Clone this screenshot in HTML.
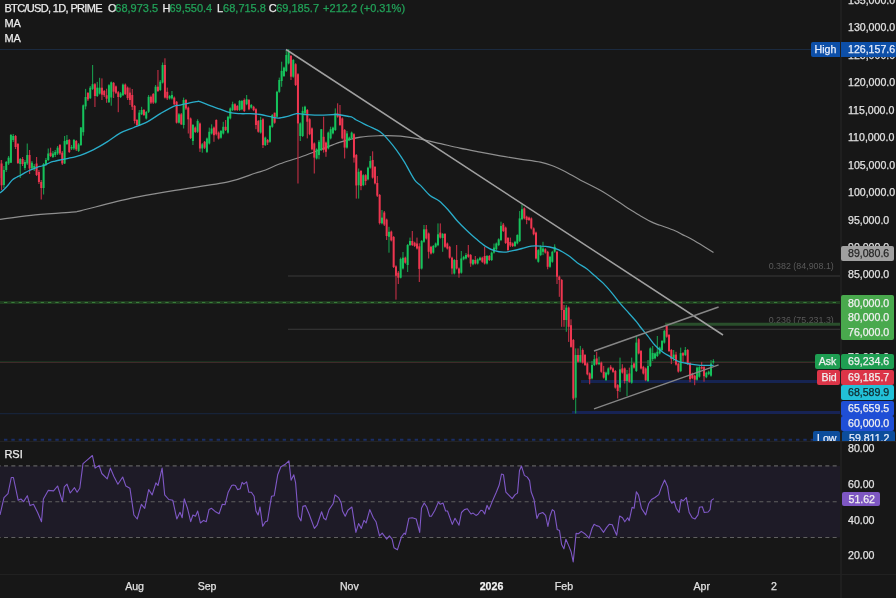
<!DOCTYPE html>
<html><head><meta charset="utf-8"><style>
*{margin:0;padding:0;box-sizing:border-box}
html,body{width:896px;height:598px;overflow:hidden;background:#171717;font-family:"Liberation Sans",Arial,sans-serif}
#root{position:relative;width:896px;height:598px;overflow:hidden;will-change:transform}
.pl,.box,.tl,.hdr{-webkit-text-stroke:0.25px currentColor}
svg{position:absolute;left:0;top:0}
.pl{position:absolute;left:848px;font-size:10.6px;line-height:14px;white-space:nowrap}
.box{position:absolute;font-size:10.6px;line-height:15px;white-space:nowrap;border-radius:2px;padding-left:7px}
.tl{position:absolute;top:579.2px;font-size:10.6px;line-height:14px;color:#e0e0e0;transform:translateX(-50%)}
.hdr{position:absolute;left:4.4px;font-size:11px;line-height:14px;color:#ebebeb;white-space:nowrap}
.g{color:#22a259}
</style></head><body><div id="root">
<svg width="841" height="441" viewBox="0 0 841 441" font-family="Liberation Sans, Arial, sans-serif">
<line x1="0" y1="49.5" x2="811" y2="49.5" stroke="#1b2a3f" stroke-width="1"/>
<line x1="288" y1="276" x2="841" y2="276" stroke="#3b3b3b" stroke-width="1.1"/>
<line x1="288" y1="329.3" x2="841" y2="329.3" stroke="#3b3b3b" stroke-width="1.1"/>
<text x="768.7" y="269.3" font-size="8.9" fill="#5a5a5a">0.382 (84,908.1)</text>
<text x="768.7" y="322.6" font-size="8.9" fill="#5a5a5a">0.236 (75,231.3)</text>
<line x1="0" y1="302.5" x2="841" y2="302.5" stroke="#1f3a1f" stroke-width="3"/>
<line x1="0" y1="302.5" x2="841" y2="302.5" stroke="#3b7d3b" stroke-width="1.2" stroke-dasharray="3.3 4.0333" stroke-dashoffset="3.3333"/>
<line x1="665" y1="324.3" x2="841" y2="324.3" stroke="#2a4f2c" stroke-width="3"/>
<line x1="0" y1="361.5" x2="815" y2="361.5" stroke="#1a2f1f" stroke-width="1"/>
<line x1="0" y1="362.5" x2="817" y2="362.5" stroke="#3f2a29" stroke-width="1"/>
<line x1="581" y1="381.5" x2="841" y2="381.5" stroke="#162452" stroke-width="3"/>
<line x1="0" y1="413.6" x2="572" y2="413.6" stroke="#172338" stroke-width="1.4"/>
<line x1="572" y1="412.5" x2="841" y2="412.5" stroke="#172354" stroke-width="3"/>
<line x1="0" y1="439.8" x2="841" y2="439.8" stroke="#1a2e66" stroke-width="2" stroke-dasharray="3.4 3.9333" stroke-dashoffset="3.3333"/>
<path d="M0.0,219.4 C5.2,218.7 19.3,216.5 31.2,215.3 C43.2,214.1 63.6,213.0 71.9,212.2 C80.2,211.4 71.4,212.9 81.2,210.6 C91.1,208.2 115.6,201.5 131.2,198.1 C146.9,194.7 158.9,193.0 175.0,190.3 C191.1,187.6 214.8,184.7 228.1,181.9 C241.4,179.1 248.8,175.3 255.0,173.3 C261.2,171.3 261.4,171.6 265.6,170.0 C269.8,168.4 274.2,165.9 280.0,163.8 C285.8,161.7 293.4,159.5 300.1,157.2 C306.8,154.8 313.5,152.2 320.2,149.7 C326.9,147.2 333.6,144.2 340.3,142.1 C347.0,140.0 353.7,138.2 360.4,137.1 C367.1,136.0 373.7,135.9 380.4,135.7 C387.1,135.5 393.8,135.5 400.5,136.1 C407.2,136.7 413.9,137.8 420.6,139.1 C427.3,140.4 434.1,142.2 440.7,143.7 C447.3,145.2 453.4,146.7 460.0,148.1 C466.6,149.5 473.5,150.8 480.2,152.1 C486.9,153.4 493.5,154.6 500.2,155.8 C506.9,157.0 513.6,158.1 520.3,159.1 C527.0,160.1 535.0,161.0 540.4,162.1 C545.8,163.2 548.5,164.2 552.5,165.7 C556.5,167.2 559.8,168.8 564.5,171.2 C569.2,173.6 574.6,177.0 580.6,180.2 C586.6,183.4 594.1,186.8 600.7,190.6 C607.3,194.4 615.1,199.7 620.0,202.8 C624.9,206.0 626.5,207.3 630.0,209.5 C633.5,211.7 637.1,214.0 641.0,216.2 C644.9,218.4 650.3,221.4 653.5,222.9 C656.7,224.4 656.4,224.0 660.0,225.3 C663.6,226.6 671.3,229.2 675.0,230.7 C678.7,232.2 679.5,233.2 682.0,234.4 C684.5,235.7 687.0,236.6 690.0,238.2 C693.0,239.8 696.1,241.7 700.0,244.1 C703.9,246.5 711.2,251.1 713.5,252.5" fill="none" stroke="#8f8f8f" stroke-width="1.2" stroke-linejoin="round"/>
<rect x="-1.30" y="158.0" width="1.1" height="22.0" fill="#c22f45"/>
<rect x="-1.75" y="160.0" width="2" height="18.0" fill="#ee3650"/>
<rect x="1.03" y="160.0" width="1.1" height="30.0" fill="#c22f45"/>
<rect x="0.58" y="163.5" width="2" height="21.8" fill="#ee3650"/>
<rect x="3.36" y="166.0" width="1.1" height="22.0" fill="#189a4c"/>
<rect x="2.91" y="170.0" width="2" height="15.0" fill="#16c25c"/>
<rect x="5.70" y="161.0" width="1.1" height="11.0" fill="#189a4c"/>
<rect x="5.25" y="162.0" width="2" height="8.0" fill="#16c25c"/>
<rect x="8.03" y="156.0" width="1.1" height="9.0" fill="#189a4c"/>
<rect x="7.58" y="157.7" width="2" height="5.8" fill="#16c25c"/>
<rect x="10.36" y="134.0" width="1.1" height="29.0" fill="#189a4c"/>
<rect x="9.91" y="135.0" width="2" height="27.7" fill="#16c25c"/>
<rect x="12.70" y="134.0" width="1.1" height="8.0" fill="#189a4c"/>
<rect x="12.25" y="136.0" width="2" height="4.0" fill="#16c25c"/>
<rect x="15.03" y="135.0" width="1.1" height="14.0" fill="#c22f45"/>
<rect x="14.58" y="136.0" width="2" height="11.0" fill="#ee3650"/>
<rect x="17.37" y="143.0" width="1.1" height="21.0" fill="#c22f45"/>
<rect x="16.92" y="144.0" width="2" height="19.0" fill="#ee3650"/>
<rect x="19.70" y="158.0" width="1.1" height="20.0" fill="#189a4c"/>
<rect x="19.25" y="159.0" width="2" height="5.0" fill="#16c25c"/>
<rect x="22.03" y="157.0" width="1.1" height="9.0" fill="#c22f45"/>
<rect x="21.58" y="159.0" width="2" height="5.0" fill="#ee3650"/>
<rect x="24.37" y="160.0" width="1.1" height="10.0" fill="#189a4c"/>
<rect x="23.92" y="162.0" width="2" height="6.0" fill="#16c25c"/>
<rect x="26.70" y="143.5" width="1.1" height="21.5" fill="#189a4c"/>
<rect x="26.25" y="155.0" width="2" height="8.5" fill="#16c25c"/>
<rect x="29.03" y="150.0" width="1.1" height="24.0" fill="#c22f45"/>
<rect x="28.58" y="155.0" width="2" height="13.5" fill="#ee3650"/>
<rect x="31.37" y="161.0" width="1.1" height="9.0" fill="#189a4c"/>
<rect x="30.92" y="162.7" width="2" height="5.8" fill="#16c25c"/>
<rect x="33.70" y="164.0" width="1.1" height="7.0" fill="#189a4c"/>
<rect x="33.25" y="166.0" width="2" height="2.5" fill="#16c25c"/>
<rect x="36.03" y="157.0" width="1.1" height="19.0" fill="#c22f45"/>
<rect x="35.58" y="163.5" width="2" height="11.5" fill="#ee3650"/>
<rect x="38.37" y="170.0" width="1.1" height="14.0" fill="#c22f45"/>
<rect x="37.92" y="172.0" width="2" height="10.0" fill="#ee3650"/>
<rect x="40.70" y="180.0" width="1.1" height="19.5" fill="#c22f45"/>
<rect x="40.25" y="182.0" width="2" height="6.0" fill="#ee3650"/>
<rect x="43.04" y="163.0" width="1.1" height="31.5" fill="#189a4c"/>
<rect x="42.59" y="164.0" width="2" height="24.0" fill="#16c25c"/>
<rect x="45.37" y="158.0" width="1.1" height="8.0" fill="#189a4c"/>
<rect x="44.92" y="160.0" width="2" height="4.0" fill="#16c25c"/>
<rect x="47.70" y="148.5" width="1.1" height="12.5" fill="#189a4c"/>
<rect x="47.25" y="153.5" width="2" height="6.5" fill="#16c25c"/>
<rect x="50.04" y="147.7" width="1.1" height="9.3" fill="#c22f45"/>
<rect x="49.59" y="152.7" width="2" height="3.3" fill="#ee3650"/>
<rect x="52.37" y="151.0" width="1.1" height="7.0" fill="#189a4c"/>
<rect x="51.92" y="153.5" width="2" height="3.5" fill="#16c25c"/>
<rect x="54.70" y="150.0" width="1.1" height="7.0" fill="#189a4c"/>
<rect x="54.25" y="152.0" width="2" height="3.0" fill="#16c25c"/>
<rect x="57.04" y="146.0" width="1.1" height="9.0" fill="#189a4c"/>
<rect x="56.59" y="147.7" width="2" height="5.8" fill="#16c25c"/>
<rect x="59.37" y="144.0" width="1.1" height="11.0" fill="#c22f45"/>
<rect x="58.92" y="145.0" width="2" height="8.5" fill="#ee3650"/>
<rect x="61.71" y="151.0" width="1.1" height="14.0" fill="#c22f45"/>
<rect x="61.26" y="152.7" width="2" height="10.8" fill="#ee3650"/>
<rect x="64.04" y="136.0" width="1.1" height="28.0" fill="#189a4c"/>
<rect x="63.59" y="141.0" width="2" height="22.5" fill="#16c25c"/>
<rect x="66.37" y="135.0" width="1.1" height="10.0" fill="#189a4c"/>
<rect x="65.92" y="140.0" width="2" height="4.0" fill="#16c25c"/>
<rect x="68.71" y="139.0" width="1.1" height="14.0" fill="#c22f45"/>
<rect x="68.26" y="140.0" width="2" height="12.0" fill="#ee3650"/>
<rect x="71.04" y="145.0" width="1.1" height="5.0" fill="#189a4c"/>
<rect x="70.59" y="147.0" width="2" height="1.5" fill="#16c25c"/>
<rect x="73.37" y="139.0" width="1.1" height="11.0" fill="#189a4c"/>
<rect x="72.92" y="140.0" width="2" height="8.5" fill="#16c25c"/>
<rect x="75.71" y="140.0" width="1.1" height="11.0" fill="#c22f45"/>
<rect x="75.26" y="141.0" width="2" height="8.4" fill="#ee3650"/>
<rect x="78.04" y="143.0" width="1.1" height="9.0" fill="#189a4c"/>
<rect x="77.59" y="144.4" width="2" height="6.6" fill="#16c25c"/>
<rect x="80.37" y="127.0" width="1.1" height="19.0" fill="#189a4c"/>
<rect x="79.92" y="127.5" width="2" height="17.5" fill="#16c25c"/>
<rect x="82.71" y="104.5" width="1.1" height="31.2" fill="#189a4c"/>
<rect x="82.26" y="105.3" width="2" height="26.9" fill="#16c25c"/>
<rect x="85.04" y="88.9" width="1.1" height="20.5" fill="#189a4c"/>
<rect x="84.59" y="97.0" width="2" height="9.4" fill="#16c25c"/>
<rect x="87.38" y="92.0" width="1.1" height="9.0" fill="#c22f45"/>
<rect x="86.93" y="93.0" width="2" height="6.4" fill="#ee3650"/>
<rect x="89.71" y="86.0" width="1.1" height="13.0" fill="#189a4c"/>
<rect x="89.26" y="87.7" width="2" height="10.5" fill="#16c25c"/>
<rect x="92.04" y="65.0" width="1.1" height="25.0" fill="#189a4c"/>
<rect x="91.59" y="84.2" width="2" height="4.7" fill="#16c25c"/>
<rect x="94.38" y="83.0" width="1.1" height="24.0" fill="#c22f45"/>
<rect x="93.93" y="84.2" width="2" height="11.8" fill="#ee3650"/>
<rect x="96.71" y="81.9" width="1.1" height="15.1" fill="#189a4c"/>
<rect x="96.26" y="87.7" width="2" height="8.3" fill="#16c25c"/>
<rect x="99.04" y="77.8" width="1.1" height="16.7" fill="#189a4c"/>
<rect x="98.59" y="87.7" width="2" height="5.9" fill="#16c25c"/>
<rect x="101.38" y="78.4" width="1.1" height="21.6" fill="#c22f45"/>
<rect x="100.93" y="87.7" width="2" height="7.0" fill="#ee3650"/>
<rect x="103.71" y="90.0" width="1.1" height="7.0" fill="#c22f45"/>
<rect x="103.26" y="91.0" width="2" height="4.2" fill="#ee3650"/>
<rect x="106.05" y="88.7" width="1.1" height="14.1" fill="#c22f45"/>
<rect x="105.60" y="95.2" width="2" height="3.5" fill="#ee3650"/>
<rect x="108.38" y="84.2" width="1.1" height="18.8" fill="#189a4c"/>
<rect x="107.93" y="85.2" width="2" height="17.0" fill="#16c25c"/>
<rect x="110.71" y="81.5" width="1.1" height="24.2" fill="#189a4c"/>
<rect x="110.26" y="82.3" width="2" height="15.2" fill="#16c25c"/>
<rect x="113.05" y="82.0" width="1.1" height="16.0" fill="#c22f45"/>
<rect x="112.60" y="82.9" width="2" height="8.8" fill="#ee3650"/>
<rect x="115.38" y="85.5" width="1.1" height="8.5" fill="#c22f45"/>
<rect x="114.93" y="86.4" width="2" height="6.4" fill="#ee3650"/>
<rect x="117.71" y="91.0" width="1.1" height="21.2" fill="#c22f45"/>
<rect x="117.26" y="92.2" width="2" height="4.8" fill="#ee3650"/>
<rect x="120.05" y="92.0" width="1.1" height="6.0" fill="#189a4c"/>
<rect x="119.60" y="93.4" width="2" height="3.6" fill="#16c25c"/>
<rect x="122.38" y="83.5" width="1.1" height="12.5" fill="#189a4c"/>
<rect x="121.93" y="84.6" width="2" height="10.6" fill="#16c25c"/>
<rect x="124.72" y="83.5" width="1.1" height="11.5" fill="#c22f45"/>
<rect x="124.27" y="84.6" width="2" height="9.4" fill="#ee3650"/>
<rect x="127.05" y="86.5" width="1.1" height="13.5" fill="#c22f45"/>
<rect x="126.60" y="87.6" width="2" height="10.5" fill="#ee3650"/>
<rect x="129.38" y="87.6" width="1.1" height="17.4" fill="#c22f45"/>
<rect x="128.93" y="92.6" width="2" height="7.4" fill="#ee3650"/>
<rect x="131.72" y="89.0" width="1.1" height="21.0" fill="#c22f45"/>
<rect x="131.27" y="95.0" width="2" height="11.8" fill="#ee3650"/>
<rect x="134.05" y="105.0" width="1.1" height="18.5" fill="#c22f45"/>
<rect x="133.60" y="106.0" width="2" height="15.0" fill="#ee3650"/>
<rect x="136.38" y="119.0" width="1.1" height="7.0" fill="#c22f45"/>
<rect x="135.93" y="120.0" width="2" height="5.0" fill="#ee3650"/>
<rect x="138.72" y="110.0" width="1.1" height="16.0" fill="#189a4c"/>
<rect x="138.27" y="112.6" width="2" height="12.4" fill="#16c25c"/>
<rect x="141.05" y="106.8" width="1.1" height="8.2" fill="#189a4c"/>
<rect x="140.60" y="110.0" width="2" height="4.3" fill="#16c25c"/>
<rect x="143.38" y="109.0" width="1.1" height="7.0" fill="#c22f45"/>
<rect x="142.93" y="110.0" width="2" height="5.0" fill="#ee3650"/>
<rect x="145.72" y="111.0" width="1.1" height="8.5" fill="#189a4c"/>
<rect x="145.27" y="112.0" width="2" height="6.5" fill="#16c25c"/>
<rect x="148.05" y="95.0" width="1.1" height="18.0" fill="#189a4c"/>
<rect x="147.60" y="96.8" width="2" height="15.0" fill="#16c25c"/>
<rect x="150.39" y="95.5" width="1.1" height="8.5" fill="#c22f45"/>
<rect x="149.94" y="96.8" width="2" height="5.8" fill="#ee3650"/>
<rect x="152.72" y="93.0" width="1.1" height="11.0" fill="#c22f45"/>
<rect x="152.27" y="94.0" width="2" height="8.6" fill="#ee3650"/>
<rect x="155.05" y="85.0" width="1.1" height="18.5" fill="#189a4c"/>
<rect x="154.60" y="86.7" width="2" height="15.9" fill="#16c25c"/>
<rect x="157.39" y="70.0" width="1.1" height="22.0" fill="#c22f45"/>
<rect x="156.94" y="86.7" width="2" height="4.3" fill="#ee3650"/>
<rect x="159.72" y="80.0" width="1.1" height="11.0" fill="#189a4c"/>
<rect x="159.27" y="81.7" width="2" height="8.3" fill="#16c25c"/>
<rect x="162.05" y="62.5" width="1.1" height="21.0" fill="#189a4c"/>
<rect x="161.60" y="65.0" width="2" height="17.6" fill="#16c25c"/>
<rect x="164.39" y="58.3" width="1.1" height="40.2" fill="#c22f45"/>
<rect x="163.94" y="65.0" width="2" height="32.6" fill="#ee3650"/>
<rect x="166.72" y="87.6" width="1.1" height="12.4" fill="#c22f45"/>
<rect x="166.27" y="91.8" width="2" height="6.6" fill="#ee3650"/>
<rect x="169.06" y="95.0" width="1.1" height="4.5" fill="#189a4c"/>
<rect x="168.61" y="96.0" width="2" height="2.4" fill="#16c25c"/>
<rect x="171.39" y="91.0" width="1.1" height="8.5" fill="#189a4c"/>
<rect x="170.94" y="95.0" width="2" height="3.4" fill="#16c25c"/>
<rect x="173.72" y="96.5" width="1.1" height="8.5" fill="#c22f45"/>
<rect x="173.27" y="97.6" width="2" height="6.7" fill="#ee3650"/>
<rect x="176.06" y="101.0" width="1.1" height="22.5" fill="#c22f45"/>
<rect x="175.61" y="101.8" width="2" height="20.9" fill="#ee3650"/>
<rect x="178.39" y="113.0" width="1.1" height="10.5" fill="#189a4c"/>
<rect x="177.94" y="114.3" width="2" height="8.4" fill="#16c25c"/>
<rect x="180.72" y="113.0" width="1.1" height="12.0" fill="#c22f45"/>
<rect x="180.27" y="114.3" width="2" height="10.0" fill="#ee3650"/>
<rect x="183.06" y="97.6" width="1.1" height="30.9" fill="#189a4c"/>
<rect x="182.61" y="100.0" width="2" height="25.0" fill="#16c25c"/>
<rect x="185.39" y="99.0" width="1.1" height="11.0" fill="#c22f45"/>
<rect x="184.94" y="100.0" width="2" height="8.5" fill="#ee3650"/>
<rect x="187.73" y="106.5" width="1.1" height="27.0" fill="#c22f45"/>
<rect x="187.28" y="107.6" width="2" height="11.7" fill="#ee3650"/>
<rect x="190.06" y="117.5" width="1.1" height="21.5" fill="#c22f45"/>
<rect x="189.61" y="118.5" width="2" height="19.5" fill="#ee3650"/>
<rect x="192.39" y="124.0" width="1.1" height="21.0" fill="#189a4c"/>
<rect x="191.94" y="125.0" width="2" height="16.0" fill="#16c25c"/>
<rect x="194.73" y="126.5" width="1.1" height="6.5" fill="#c22f45"/>
<rect x="194.28" y="127.6" width="2" height="4.4" fill="#ee3650"/>
<rect x="197.06" y="119.3" width="1.1" height="13.7" fill="#189a4c"/>
<rect x="196.61" y="121.0" width="2" height="10.8" fill="#16c25c"/>
<rect x="199.39" y="122.5" width="1.1" height="29.4" fill="#c22f45"/>
<rect x="198.94" y="123.5" width="2" height="25.0" fill="#ee3650"/>
<rect x="201.73" y="143.0" width="1.1" height="9.7" fill="#189a4c"/>
<rect x="201.28" y="144.3" width="2" height="4.2" fill="#16c25c"/>
<rect x="204.06" y="141.0" width="1.1" height="8.0" fill="#c22f45"/>
<rect x="203.61" y="141.8" width="2" height="5.9" fill="#ee3650"/>
<rect x="206.39" y="137.5" width="1.1" height="15.5" fill="#189a4c"/>
<rect x="205.94" y="138.5" width="2" height="13.4" fill="#16c25c"/>
<rect x="208.73" y="127.6" width="1.1" height="16.9" fill="#189a4c"/>
<rect x="208.28" y="131.8" width="2" height="11.7" fill="#16c25c"/>
<rect x="211.06" y="124.3" width="1.1" height="10.2" fill="#189a4c"/>
<rect x="210.61" y="128.5" width="2" height="5.0" fill="#16c25c"/>
<rect x="213.40" y="126.5" width="1.1" height="15.3" fill="#c22f45"/>
<rect x="212.95" y="127.6" width="2" height="7.6" fill="#ee3650"/>
<rect x="215.73" y="119.3" width="1.1" height="16.2" fill="#c22f45"/>
<rect x="215.28" y="120.0" width="2" height="14.3" fill="#ee3650"/>
<rect x="218.06" y="131.5" width="1.1" height="8.0" fill="#c22f45"/>
<rect x="217.61" y="132.6" width="2" height="5.9" fill="#ee3650"/>
<rect x="220.40" y="130.0" width="1.1" height="8.7" fill="#189a4c"/>
<rect x="219.95" y="131.0" width="2" height="6.7" fill="#16c25c"/>
<rect x="222.73" y="121.8" width="1.1" height="12.7" fill="#189a4c"/>
<rect x="222.28" y="126.8" width="2" height="6.7" fill="#16c25c"/>
<rect x="225.06" y="120.0" width="1.1" height="11.0" fill="#c22f45"/>
<rect x="224.61" y="126.8" width="2" height="3.2" fill="#ee3650"/>
<rect x="227.40" y="115.8" width="1.1" height="17.8" fill="#189a4c"/>
<rect x="226.95" y="116.8" width="2" height="15.8" fill="#16c25c"/>
<rect x="229.73" y="107.4" width="1.1" height="12.0" fill="#189a4c"/>
<rect x="229.28" y="108.4" width="2" height="10.0" fill="#16c25c"/>
<rect x="232.07" y="101.7" width="1.1" height="9.3" fill="#189a4c"/>
<rect x="231.62" y="104.2" width="2" height="5.8" fill="#16c25c"/>
<rect x="234.40" y="103.2" width="1.1" height="7.8" fill="#c22f45"/>
<rect x="233.95" y="104.2" width="2" height="5.8" fill="#ee3650"/>
<rect x="236.73" y="105.0" width="1.1" height="6.0" fill="#c22f45"/>
<rect x="236.28" y="106.0" width="2" height="4.0" fill="#ee3650"/>
<rect x="239.07" y="100.0" width="1.1" height="11.0" fill="#189a4c"/>
<rect x="238.62" y="101.0" width="2" height="9.0" fill="#16c25c"/>
<rect x="241.40" y="100.0" width="1.1" height="10.3" fill="#189a4c"/>
<rect x="240.95" y="101.0" width="2" height="8.3" fill="#16c25c"/>
<rect x="243.73" y="98.4" width="1.1" height="13.6" fill="#c22f45"/>
<rect x="243.28" y="100.0" width="2" height="11.0" fill="#ee3650"/>
<rect x="246.07" y="95.0" width="1.1" height="10.2" fill="#189a4c"/>
<rect x="245.62" y="99.2" width="2" height="5.0" fill="#16c25c"/>
<rect x="248.40" y="99.0" width="1.1" height="11.3" fill="#c22f45"/>
<rect x="247.95" y="100.0" width="2" height="9.3" fill="#ee3650"/>
<rect x="250.73" y="104.0" width="1.1" height="4.6" fill="#189a4c"/>
<rect x="250.28" y="105.0" width="2" height="2.6" fill="#16c25c"/>
<rect x="253.07" y="105.8" width="1.1" height="5.4" fill="#c22f45"/>
<rect x="252.62" y="106.8" width="2" height="3.4" fill="#ee3650"/>
<rect x="255.40" y="108.2" width="1.1" height="21.0" fill="#c22f45"/>
<rect x="254.95" y="109.2" width="2" height="15.8" fill="#ee3650"/>
<rect x="257.74" y="120.0" width="1.1" height="12.7" fill="#c22f45"/>
<rect x="257.29" y="121.0" width="2" height="10.7" fill="#ee3650"/>
<rect x="260.07" y="116.8" width="1.1" height="16.8" fill="#189a4c"/>
<rect x="259.62" y="120.0" width="2" height="12.6" fill="#16c25c"/>
<rect x="262.40" y="118.2" width="1.1" height="29.8" fill="#c22f45"/>
<rect x="261.95" y="119.2" width="2" height="25.9" fill="#ee3650"/>
<rect x="264.74" y="136.6" width="1.1" height="9.4" fill="#189a4c"/>
<rect x="264.29" y="137.6" width="2" height="7.5" fill="#16c25c"/>
<rect x="267.07" y="139.0" width="1.1" height="6.0" fill="#c22f45"/>
<rect x="266.62" y="140.0" width="2" height="2.6" fill="#ee3650"/>
<rect x="269.40" y="125.0" width="1.1" height="17.8" fill="#189a4c"/>
<rect x="268.95" y="126.0" width="2" height="15.8" fill="#16c25c"/>
<rect x="271.74" y="114.0" width="1.1" height="13.8" fill="#189a4c"/>
<rect x="271.29" y="115.0" width="2" height="11.8" fill="#16c25c"/>
<rect x="274.07" y="112.7" width="1.1" height="11.0" fill="#c22f45"/>
<rect x="273.62" y="112.7" width="2" height="10.0" fill="#ee3650"/>
<rect x="276.41" y="90.8" width="1.1" height="27.0" fill="#189a4c"/>
<rect x="275.96" y="91.8" width="2" height="25.0" fill="#16c25c"/>
<rect x="278.74" y="77.6" width="1.1" height="15.2" fill="#189a4c"/>
<rect x="278.29" y="80.0" width="2" height="11.8" fill="#16c25c"/>
<rect x="281.07" y="61.7" width="1.1" height="25.1" fill="#189a4c"/>
<rect x="280.62" y="70.9" width="2" height="10.1" fill="#16c25c"/>
<rect x="283.41" y="66.6" width="1.1" height="10.4" fill="#189a4c"/>
<rect x="282.96" y="67.6" width="2" height="8.4" fill="#16c25c"/>
<rect x="285.74" y="50.0" width="1.1" height="22.0" fill="#189a4c"/>
<rect x="285.29" y="55.0" width="2" height="15.9" fill="#16c25c"/>
<rect x="288.07" y="49.2" width="1.1" height="15.2" fill="#189a4c"/>
<rect x="287.62" y="51.7" width="2" height="11.7" fill="#16c25c"/>
<rect x="290.41" y="54.9" width="1.1" height="25.1" fill="#c22f45"/>
<rect x="289.96" y="55.9" width="2" height="20.8" fill="#ee3650"/>
<rect x="292.74" y="59.0" width="1.1" height="18.7" fill="#189a4c"/>
<rect x="292.29" y="60.0" width="2" height="16.7" fill="#16c25c"/>
<rect x="295.08" y="63.2" width="1.1" height="22.8" fill="#c22f45"/>
<rect x="294.63" y="64.2" width="2" height="20.8" fill="#ee3650"/>
<rect x="297.41" y="73.2" width="1.1" height="110.3" fill="#c22f45"/>
<rect x="296.96" y="74.2" width="2" height="49.2" fill="#ee3650"/>
<rect x="299.74" y="122.4" width="1.1" height="18.6" fill="#189a4c"/>
<rect x="299.29" y="123.4" width="2" height="12.6" fill="#16c25c"/>
<rect x="302.08" y="106.7" width="1.1" height="30.3" fill="#189a4c"/>
<rect x="301.63" y="110.9" width="2" height="25.1" fill="#16c25c"/>
<rect x="304.41" y="105.7" width="1.1" height="8.7" fill="#189a4c"/>
<rect x="303.96" y="106.7" width="2" height="6.7" fill="#16c25c"/>
<rect x="306.74" y="109.0" width="1.1" height="29.4" fill="#c22f45"/>
<rect x="306.29" y="110.0" width="2" height="11.7" fill="#ee3650"/>
<rect x="309.08" y="118.2" width="1.1" height="17.0" fill="#c22f45"/>
<rect x="308.63" y="119.2" width="2" height="15.0" fill="#ee3650"/>
<rect x="311.41" y="127.4" width="1.1" height="22.9" fill="#c22f45"/>
<rect x="310.96" y="128.4" width="2" height="20.9" fill="#ee3650"/>
<rect x="313.74" y="142.4" width="1.1" height="31.1" fill="#c22f45"/>
<rect x="313.29" y="143.4" width="2" height="14.2" fill="#ee3650"/>
<rect x="316.08" y="148.3" width="1.1" height="11.2" fill="#189a4c"/>
<rect x="315.63" y="149.3" width="2" height="9.2" fill="#16c25c"/>
<rect x="318.41" y="140.0" width="1.1" height="19.3" fill="#189a4c"/>
<rect x="317.96" y="141.8" width="2" height="13.3" fill="#16c25c"/>
<rect x="320.75" y="129.0" width="1.1" height="22.0" fill="#189a4c"/>
<rect x="320.30" y="129.2" width="2" height="20.9" fill="#16c25c"/>
<rect x="323.08" y="116.7" width="1.1" height="35.9" fill="#c22f45"/>
<rect x="322.63" y="136.8" width="2" height="13.2" fill="#ee3650"/>
<rect x="325.41" y="141.6" width="1.1" height="15.2" fill="#c22f45"/>
<rect x="324.96" y="142.6" width="2" height="9.2" fill="#ee3650"/>
<rect x="327.75" y="131.6" width="1.1" height="17.8" fill="#189a4c"/>
<rect x="327.30" y="132.6" width="2" height="15.8" fill="#16c25c"/>
<rect x="330.08" y="126.7" width="1.1" height="12.7" fill="#189a4c"/>
<rect x="329.63" y="129.2" width="2" height="9.2" fill="#16c25c"/>
<rect x="332.41" y="126.6" width="1.1" height="7.8" fill="#189a4c"/>
<rect x="331.96" y="127.6" width="2" height="5.8" fill="#16c25c"/>
<rect x="334.75" y="108.4" width="1.1" height="22.6" fill="#189a4c"/>
<rect x="334.30" y="113.4" width="2" height="16.6" fill="#16c25c"/>
<rect x="337.08" y="103.3" width="1.1" height="14.4" fill="#c22f45"/>
<rect x="336.63" y="113.4" width="2" height="3.3" fill="#ee3650"/>
<rect x="339.42" y="105.0" width="1.1" height="20.9" fill="#c22f45"/>
<rect x="338.97" y="114.2" width="2" height="10.8" fill="#ee3650"/>
<rect x="341.75" y="117.4" width="1.1" height="22.0" fill="#c22f45"/>
<rect x="341.30" y="118.4" width="2" height="20.0" fill="#ee3650"/>
<rect x="344.08" y="129.0" width="1.1" height="29.5" fill="#c22f45"/>
<rect x="343.63" y="130.0" width="2" height="17.6" fill="#ee3650"/>
<rect x="346.42" y="130.9" width="1.1" height="17.7" fill="#189a4c"/>
<rect x="345.97" y="133.4" width="2" height="14.2" fill="#16c25c"/>
<rect x="348.75" y="136.6" width="1.1" height="4.5" fill="#189a4c"/>
<rect x="348.30" y="137.6" width="2" height="2.5" fill="#16c25c"/>
<rect x="351.08" y="131.6" width="1.1" height="7.8" fill="#189a4c"/>
<rect x="350.63" y="132.6" width="2" height="5.8" fill="#16c25c"/>
<rect x="353.42" y="133.2" width="1.1" height="29.4" fill="#c22f45"/>
<rect x="352.97" y="134.2" width="2" height="23.4" fill="#ee3650"/>
<rect x="355.75" y="154.0" width="1.1" height="44.6" fill="#c22f45"/>
<rect x="355.30" y="155.0" width="2" height="30.5" fill="#ee3650"/>
<rect x="358.09" y="168.5" width="1.1" height="30.1" fill="#189a4c"/>
<rect x="357.64" y="171.8" width="2" height="13.4" fill="#16c25c"/>
<rect x="360.42" y="170.0" width="1.1" height="20.2" fill="#c22f45"/>
<rect x="359.97" y="171.0" width="2" height="15.0" fill="#ee3650"/>
<rect x="362.75" y="174.2" width="1.1" height="12.0" fill="#189a4c"/>
<rect x="362.30" y="175.2" width="2" height="10.0" fill="#16c25c"/>
<rect x="365.09" y="174.2" width="1.1" height="11.0" fill="#c22f45"/>
<rect x="364.64" y="175.2" width="2" height="5.8" fill="#ee3650"/>
<rect x="367.42" y="166.7" width="1.1" height="13.7" fill="#189a4c"/>
<rect x="366.97" y="167.7" width="2" height="11.7" fill="#16c25c"/>
<rect x="369.75" y="156.0" width="1.1" height="12.7" fill="#189a4c"/>
<rect x="369.30" y="161.0" width="2" height="6.7" fill="#16c25c"/>
<rect x="372.09" y="151.3" width="1.1" height="27.3" fill="#c22f45"/>
<rect x="371.64" y="160.0" width="2" height="17.6" fill="#ee3650"/>
<rect x="374.42" y="166.0" width="1.1" height="18.4" fill="#c22f45"/>
<rect x="373.97" y="167.0" width="2" height="16.4" fill="#ee3650"/>
<rect x="376.75" y="176.0" width="1.1" height="21.0" fill="#c22f45"/>
<rect x="376.30" y="183.0" width="2" height="12.7" fill="#ee3650"/>
<rect x="379.09" y="194.0" width="1.1" height="30.5" fill="#c22f45"/>
<rect x="378.64" y="195.0" width="2" height="28.1" fill="#ee3650"/>
<rect x="381.42" y="210.0" width="1.1" height="14.3" fill="#189a4c"/>
<rect x="380.97" y="217.6" width="2" height="5.7" fill="#16c25c"/>
<rect x="383.76" y="211.0" width="1.1" height="15.0" fill="#c22f45"/>
<rect x="383.31" y="212.5" width="2" height="12.1" fill="#ee3650"/>
<rect x="386.09" y="218.6" width="1.1" height="21.4" fill="#c22f45"/>
<rect x="385.64" y="219.6" width="2" height="16.4" fill="#ee3650"/>
<rect x="388.42" y="226.8" width="1.1" height="25.9" fill="#189a4c"/>
<rect x="387.97" y="231.8" width="2" height="5.0" fill="#16c25c"/>
<rect x="390.76" y="230.6" width="1.1" height="10.8" fill="#c22f45"/>
<rect x="390.31" y="231.6" width="2" height="8.8" fill="#ee3650"/>
<rect x="393.09" y="236.0" width="1.1" height="32.0" fill="#c22f45"/>
<rect x="392.64" y="237.0" width="2" height="30.0" fill="#ee3650"/>
<rect x="395.42" y="265.3" width="1.1" height="34.3" fill="#c22f45"/>
<rect x="394.97" y="266.4" width="2" height="9.4" fill="#ee3650"/>
<rect x="397.76" y="271.0" width="1.1" height="13.0" fill="#c22f45"/>
<rect x="397.31" y="272.7" width="2" height="5.0" fill="#ee3650"/>
<rect x="400.09" y="257.5" width="1.1" height="20.9" fill="#189a4c"/>
<rect x="399.64" y="258.9" width="2" height="18.8" fill="#16c25c"/>
<rect x="402.43" y="252.0" width="1.1" height="17.5" fill="#189a4c"/>
<rect x="401.98" y="257.7" width="2" height="10.8" fill="#16c25c"/>
<rect x="404.76" y="256.7" width="1.1" height="7.0" fill="#c22f45"/>
<rect x="404.31" y="257.7" width="2" height="5.0" fill="#ee3650"/>
<rect x="407.09" y="244.0" width="1.1" height="28.0" fill="#189a4c"/>
<rect x="406.64" y="245.0" width="2" height="20.0" fill="#16c25c"/>
<rect x="409.43" y="237.6" width="1.1" height="8.4" fill="#189a4c"/>
<rect x="408.98" y="241.0" width="2" height="4.0" fill="#16c25c"/>
<rect x="411.76" y="231.0" width="1.1" height="15.0" fill="#c22f45"/>
<rect x="411.31" y="241.0" width="2" height="4.0" fill="#ee3650"/>
<rect x="414.09" y="241.7" width="1.1" height="5.3" fill="#c22f45"/>
<rect x="413.64" y="242.7" width="2" height="3.3" fill="#ee3650"/>
<rect x="416.43" y="237.6" width="1.1" height="11.9" fill="#c22f45"/>
<rect x="415.98" y="243.5" width="2" height="5.0" fill="#ee3650"/>
<rect x="418.76" y="243.3" width="1.1" height="38.7" fill="#c22f45"/>
<rect x="418.31" y="246.3" width="2" height="22.6" fill="#ee3650"/>
<rect x="421.10" y="240.0" width="1.1" height="29.5" fill="#189a4c"/>
<rect x="420.65" y="241.0" width="2" height="27.5" fill="#16c25c"/>
<rect x="423.43" y="225.0" width="1.1" height="17.8" fill="#189a4c"/>
<rect x="422.98" y="229.3" width="2" height="12.5" fill="#16c25c"/>
<rect x="425.76" y="225.0" width="1.1" height="14.5" fill="#c22f45"/>
<rect x="425.31" y="229.3" width="2" height="9.2" fill="#ee3650"/>
<rect x="428.10" y="232.5" width="1.1" height="26.0" fill="#c22f45"/>
<rect x="427.65" y="233.5" width="2" height="18.3" fill="#ee3650"/>
<rect x="430.43" y="245.8" width="1.1" height="8.7" fill="#c22f45"/>
<rect x="429.98" y="246.8" width="2" height="6.7" fill="#ee3650"/>
<rect x="432.76" y="245.0" width="1.1" height="8.7" fill="#189a4c"/>
<rect x="432.31" y="246.0" width="2" height="6.7" fill="#16c25c"/>
<rect x="435.10" y="242.5" width="1.1" height="5.3" fill="#189a4c"/>
<rect x="434.65" y="243.5" width="2" height="3.3" fill="#16c25c"/>
<rect x="437.43" y="223.4" width="1.1" height="22.8" fill="#189a4c"/>
<rect x="436.98" y="234.3" width="2" height="10.9" fill="#16c25c"/>
<rect x="439.76" y="223.4" width="1.1" height="15.2" fill="#c22f45"/>
<rect x="439.31" y="232.6" width="2" height="5.0" fill="#ee3650"/>
<rect x="442.10" y="233.0" width="1.1" height="18.8" fill="#189a4c"/>
<rect x="441.65" y="234.0" width="2" height="4.0" fill="#16c25c"/>
<rect x="444.43" y="233.0" width="1.1" height="14.8" fill="#c22f45"/>
<rect x="443.98" y="234.0" width="2" height="12.8" fill="#ee3650"/>
<rect x="446.77" y="242.5" width="1.1" height="7.0" fill="#c22f45"/>
<rect x="446.32" y="243.5" width="2" height="5.0" fill="#ee3650"/>
<rect x="449.10" y="245.8" width="1.1" height="12.9" fill="#c22f45"/>
<rect x="448.65" y="246.8" width="2" height="10.9" fill="#ee3650"/>
<rect x="451.43" y="256.7" width="1.1" height="17.7" fill="#c22f45"/>
<rect x="450.98" y="257.7" width="2" height="10.8" fill="#ee3650"/>
<rect x="453.77" y="259.0" width="1.1" height="15.5" fill="#189a4c"/>
<rect x="453.32" y="260.0" width="2" height="13.5" fill="#16c25c"/>
<rect x="456.10" y="245.0" width="1.1" height="24.5" fill="#c22f45"/>
<rect x="455.65" y="260.0" width="2" height="8.5" fill="#ee3650"/>
<rect x="458.43" y="267.5" width="1.1" height="10.2" fill="#c22f45"/>
<rect x="457.98" y="268.5" width="2" height="5.0" fill="#ee3650"/>
<rect x="460.77" y="251.0" width="1.1" height="22.7" fill="#189a4c"/>
<rect x="460.32" y="258.5" width="2" height="14.2" fill="#16c25c"/>
<rect x="463.10" y="255.8" width="1.1" height="4.5" fill="#189a4c"/>
<rect x="462.65" y="256.8" width="2" height="2.5" fill="#16c25c"/>
<rect x="465.44" y="253.0" width="1.1" height="6.5" fill="#189a4c"/>
<rect x="464.99" y="255.0" width="2" height="3.5" fill="#16c25c"/>
<rect x="467.77" y="245.0" width="1.1" height="12.8" fill="#c22f45"/>
<rect x="467.32" y="254.3" width="2" height="2.5" fill="#ee3650"/>
<rect x="470.10" y="254.0" width="1.1" height="12.8" fill="#c22f45"/>
<rect x="469.65" y="255.0" width="2" height="8.5" fill="#ee3650"/>
<rect x="472.44" y="259.0" width="1.1" height="6.3" fill="#189a4c"/>
<rect x="471.99" y="260.0" width="2" height="4.3" fill="#16c25c"/>
<rect x="474.77" y="256.0" width="1.1" height="8.5" fill="#c22f45"/>
<rect x="474.32" y="260.0" width="2" height="3.5" fill="#ee3650"/>
<rect x="477.10" y="258.3" width="1.1" height="6.2" fill="#189a4c"/>
<rect x="476.65" y="259.3" width="2" height="4.2" fill="#16c25c"/>
<rect x="479.44" y="256.7" width="1.1" height="4.3" fill="#189a4c"/>
<rect x="478.99" y="257.7" width="2" height="2.3" fill="#16c25c"/>
<rect x="481.77" y="256.7" width="1.1" height="6.1" fill="#c22f45"/>
<rect x="481.32" y="257.7" width="2" height="4.1" fill="#ee3650"/>
<rect x="484.10" y="246.8" width="1.1" height="17.7" fill="#c22f45"/>
<rect x="483.65" y="256.0" width="2" height="7.5" fill="#ee3650"/>
<rect x="486.44" y="255.0" width="1.1" height="9.5" fill="#189a4c"/>
<rect x="485.99" y="256.0" width="2" height="7.5" fill="#16c25c"/>
<rect x="488.77" y="255.0" width="1.1" height="6.0" fill="#c22f45"/>
<rect x="488.32" y="256.0" width="2" height="4.0" fill="#ee3650"/>
<rect x="491.11" y="251.6" width="1.1" height="9.4" fill="#189a4c"/>
<rect x="490.66" y="252.6" width="2" height="7.4" fill="#16c25c"/>
<rect x="493.44" y="243.5" width="1.1" height="10.1" fill="#189a4c"/>
<rect x="492.99" y="247.6" width="2" height="5.0" fill="#16c25c"/>
<rect x="495.77" y="242.5" width="1.1" height="7.8" fill="#189a4c"/>
<rect x="495.32" y="243.5" width="2" height="5.8" fill="#16c25c"/>
<rect x="498.11" y="238.3" width="1.1" height="7.8" fill="#189a4c"/>
<rect x="497.66" y="239.3" width="2" height="5.8" fill="#16c25c"/>
<rect x="500.44" y="221.7" width="1.1" height="19.4" fill="#189a4c"/>
<rect x="499.99" y="225.9" width="2" height="14.2" fill="#16c25c"/>
<rect x="502.77" y="223.0" width="1.1" height="9.0" fill="#c22f45"/>
<rect x="502.32" y="224.6" width="2" height="6.4" fill="#ee3650"/>
<rect x="505.11" y="226.6" width="1.1" height="17.4" fill="#c22f45"/>
<rect x="504.66" y="227.6" width="2" height="15.4" fill="#ee3650"/>
<rect x="507.44" y="237.0" width="1.1" height="15.0" fill="#c22f45"/>
<rect x="506.99" y="238.0" width="2" height="12.0" fill="#ee3650"/>
<rect x="509.78" y="237.6" width="1.1" height="9.4" fill="#c22f45"/>
<rect x="509.33" y="242.0" width="2" height="3.5" fill="#ee3650"/>
<rect x="512.11" y="242.4" width="1.1" height="4.6" fill="#c22f45"/>
<rect x="511.66" y="243.4" width="2" height="2.6" fill="#ee3650"/>
<rect x="514.44" y="240.8" width="1.1" height="6.2" fill="#189a4c"/>
<rect x="513.99" y="241.8" width="2" height="4.2" fill="#16c25c"/>
<rect x="516.78" y="234.3" width="1.1" height="10.1" fill="#189a4c"/>
<rect x="516.33" y="235.0" width="2" height="8.4" fill="#16c25c"/>
<rect x="519.11" y="211.0" width="1.1" height="31.0" fill="#189a4c"/>
<rect x="518.66" y="218.4" width="2" height="22.6" fill="#16c25c"/>
<rect x="521.44" y="204.2" width="1.1" height="16.0" fill="#189a4c"/>
<rect x="520.99" y="209.2" width="2" height="10.0" fill="#16c25c"/>
<rect x="523.78" y="207.4" width="1.1" height="12.0" fill="#c22f45"/>
<rect x="523.33" y="208.4" width="2" height="10.0" fill="#ee3650"/>
<rect x="526.11" y="215.7" width="1.1" height="8.5" fill="#c22f45"/>
<rect x="525.66" y="216.7" width="2" height="3.3" fill="#ee3650"/>
<rect x="528.45" y="216.6" width="1.1" height="4.4" fill="#c22f45"/>
<rect x="528.00" y="217.6" width="2" height="2.4" fill="#ee3650"/>
<rect x="530.78" y="217.4" width="1.1" height="12.0" fill="#c22f45"/>
<rect x="530.33" y="218.4" width="2" height="10.0" fill="#ee3650"/>
<rect x="533.11" y="227.4" width="1.1" height="7.9" fill="#c22f45"/>
<rect x="532.66" y="228.4" width="2" height="5.9" fill="#ee3650"/>
<rect x="535.45" y="231.6" width="1.1" height="27.9" fill="#c22f45"/>
<rect x="535.00" y="232.6" width="2" height="25.9" fill="#ee3650"/>
<rect x="537.78" y="249.1" width="1.1" height="13.6" fill="#189a4c"/>
<rect x="537.33" y="250.1" width="2" height="11.7" fill="#16c25c"/>
<rect x="540.11" y="245.1" width="1.1" height="11.0" fill="#189a4c"/>
<rect x="539.66" y="246.8" width="2" height="8.3" fill="#16c25c"/>
<rect x="542.45" y="241.8" width="1.1" height="13.3" fill="#189a4c"/>
<rect x="542.00" y="248.5" width="2" height="3.3" fill="#16c25c"/>
<rect x="544.78" y="248.3" width="1.1" height="5.3" fill="#c22f45"/>
<rect x="544.33" y="249.3" width="2" height="3.3" fill="#ee3650"/>
<rect x="547.11" y="250.8" width="1.1" height="18.5" fill="#c22f45"/>
<rect x="546.66" y="251.8" width="2" height="15.0" fill="#ee3650"/>
<rect x="549.45" y="255.8" width="1.1" height="12.0" fill="#189a4c"/>
<rect x="549.00" y="256.8" width="2" height="10.0" fill="#16c25c"/>
<rect x="551.78" y="250.8" width="1.1" height="12.0" fill="#189a4c"/>
<rect x="551.33" y="251.8" width="2" height="10.0" fill="#16c25c"/>
<rect x="554.12" y="244.3" width="1.1" height="8.5" fill="#189a4c"/>
<rect x="553.67" y="246.8" width="2" height="5.0" fill="#16c25c"/>
<rect x="556.45" y="250.8" width="1.1" height="33.2" fill="#c22f45"/>
<rect x="556.00" y="251.8" width="2" height="24.9" fill="#ee3650"/>
<rect x="558.78" y="275.7" width="1.1" height="21.1" fill="#c22f45"/>
<rect x="558.33" y="276.7" width="2" height="3.3" fill="#ee3650"/>
<rect x="561.12" y="279.0" width="1.1" height="47.8" fill="#c22f45"/>
<rect x="560.67" y="280.0" width="2" height="30.0" fill="#ee3650"/>
<rect x="563.45" y="305.0" width="1.1" height="21.8" fill="#c22f45"/>
<rect x="563.00" y="310.0" width="2" height="10.0" fill="#ee3650"/>
<rect x="565.78" y="305.0" width="1.1" height="26.8" fill="#189a4c"/>
<rect x="565.33" y="307.6" width="2" height="12.4" fill="#16c25c"/>
<rect x="568.12" y="306.6" width="1.1" height="35.3" fill="#c22f45"/>
<rect x="567.67" y="307.6" width="2" height="19.2" fill="#ee3650"/>
<rect x="570.45" y="319.3" width="1.1" height="28.4" fill="#c22f45"/>
<rect x="570.00" y="325.2" width="2" height="21.7" fill="#ee3650"/>
<rect x="572.79" y="339.0" width="1.1" height="61.0" fill="#c22f45"/>
<rect x="572.34" y="340.0" width="2" height="58.5" fill="#ee3650"/>
<rect x="575.12" y="348.4" width="1.1" height="65.1" fill="#189a4c"/>
<rect x="574.67" y="355.0" width="2" height="42.7" fill="#16c25c"/>
<rect x="577.45" y="348.4" width="1.1" height="14.3" fill="#c22f45"/>
<rect x="577.00" y="355.0" width="2" height="6.7" fill="#ee3650"/>
<rect x="579.79" y="345.9" width="1.1" height="16.8" fill="#189a4c"/>
<rect x="579.34" y="355.0" width="2" height="6.7" fill="#16c25c"/>
<rect x="582.12" y="348.4" width="1.1" height="15.2" fill="#c22f45"/>
<rect x="581.67" y="350.0" width="2" height="12.6" fill="#ee3650"/>
<rect x="584.45" y="354.0" width="1.1" height="12.0" fill="#c22f45"/>
<rect x="584.00" y="355.0" width="2" height="10.0" fill="#ee3650"/>
<rect x="586.79" y="362.4" width="1.1" height="12.9" fill="#c22f45"/>
<rect x="586.34" y="363.4" width="2" height="10.9" fill="#ee3650"/>
<rect x="589.12" y="372.4" width="1.1" height="11.9" fill="#c22f45"/>
<rect x="588.67" y="373.4" width="2" height="5.9" fill="#ee3650"/>
<rect x="591.46" y="360.9" width="1.1" height="18.5" fill="#189a4c"/>
<rect x="591.01" y="365.0" width="2" height="13.4" fill="#16c25c"/>
<rect x="593.79" y="355.0" width="1.1" height="11.0" fill="#189a4c"/>
<rect x="593.34" y="359.2" width="2" height="5.8" fill="#16c25c"/>
<rect x="596.12" y="351.7" width="1.1" height="13.5" fill="#c22f45"/>
<rect x="595.67" y="358.4" width="2" height="5.8" fill="#ee3650"/>
<rect x="598.46" y="356.7" width="1.1" height="8.5" fill="#189a4c"/>
<rect x="598.01" y="362.6" width="2" height="1.6" fill="#16c25c"/>
<rect x="600.79" y="361.6" width="1.1" height="11.2" fill="#c22f45"/>
<rect x="600.34" y="362.6" width="2" height="9.2" fill="#ee3650"/>
<rect x="603.12" y="365.9" width="1.1" height="12.7" fill="#c22f45"/>
<rect x="602.67" y="371.8" width="2" height="5.8" fill="#ee3650"/>
<rect x="605.46" y="371.6" width="1.1" height="9.4" fill="#189a4c"/>
<rect x="605.01" y="372.6" width="2" height="7.5" fill="#16c25c"/>
<rect x="607.79" y="367.4" width="1.1" height="7.9" fill="#189a4c"/>
<rect x="607.34" y="368.4" width="2" height="5.9" fill="#16c25c"/>
<rect x="610.12" y="365.1" width="1.1" height="5.2" fill="#c22f45"/>
<rect x="609.67" y="366.8" width="2" height="2.5" fill="#ee3650"/>
<rect x="612.46" y="367.4" width="1.1" height="5.4" fill="#c22f45"/>
<rect x="612.01" y="368.4" width="2" height="3.4" fill="#ee3650"/>
<rect x="614.79" y="370.0" width="1.1" height="18.6" fill="#c22f45"/>
<rect x="614.34" y="371.0" width="2" height="16.6" fill="#ee3650"/>
<rect x="617.13" y="384.1" width="1.1" height="14.4" fill="#c22f45"/>
<rect x="616.68" y="385.1" width="2" height="5.9" fill="#ee3650"/>
<rect x="619.46" y="357.6" width="1.1" height="34.3" fill="#189a4c"/>
<rect x="619.01" y="369.3" width="2" height="18.3" fill="#16c25c"/>
<rect x="621.79" y="364.2" width="1.1" height="9.4" fill="#c22f45"/>
<rect x="621.34" y="368.4" width="2" height="4.2" fill="#ee3650"/>
<rect x="624.13" y="367.4" width="1.1" height="16.1" fill="#c22f45"/>
<rect x="623.68" y="368.4" width="2" height="12.6" fill="#ee3650"/>
<rect x="626.46" y="370.0" width="1.1" height="26.0" fill="#189a4c"/>
<rect x="626.01" y="374.3" width="2" height="6.7" fill="#16c25c"/>
<rect x="628.79" y="367.6" width="1.1" height="15.2" fill="#c22f45"/>
<rect x="628.34" y="373.5" width="2" height="8.3" fill="#ee3650"/>
<rect x="631.13" y="357.6" width="1.1" height="26.1" fill="#189a4c"/>
<rect x="630.68" y="365.1" width="2" height="17.6" fill="#16c25c"/>
<rect x="633.46" y="362.5" width="1.1" height="6.1" fill="#c22f45"/>
<rect x="633.01" y="363.5" width="2" height="4.1" fill="#ee3650"/>
<rect x="635.80" y="335.9" width="1.1" height="36.1" fill="#189a4c"/>
<rect x="635.35" y="342.6" width="2" height="28.4" fill="#16c25c"/>
<rect x="638.13" y="338.2" width="1.1" height="16.2" fill="#c22f45"/>
<rect x="637.68" y="339.2" width="2" height="14.2" fill="#ee3650"/>
<rect x="640.46" y="350.0" width="1.1" height="19.5" fill="#c22f45"/>
<rect x="640.01" y="351.0" width="2" height="17.5" fill="#ee3650"/>
<rect x="642.80" y="365.8" width="1.1" height="8.7" fill="#c22f45"/>
<rect x="642.35" y="366.8" width="2" height="6.7" fill="#ee3650"/>
<rect x="645.13" y="367.5" width="1.1" height="13.7" fill="#c22f45"/>
<rect x="644.68" y="368.5" width="2" height="11.7" fill="#ee3650"/>
<rect x="647.46" y="360.0" width="1.1" height="22.0" fill="#189a4c"/>
<rect x="647.01" y="366.0" width="2" height="15.0" fill="#16c25c"/>
<rect x="649.80" y="347.4" width="1.1" height="19.6" fill="#189a4c"/>
<rect x="649.35" y="348.4" width="2" height="17.6" fill="#16c25c"/>
<rect x="652.13" y="346.0" width="1.1" height="15.0" fill="#189a4c"/>
<rect x="651.68" y="353.0" width="2" height="6.0" fill="#16c25c"/>
<rect x="654.47" y="352.4" width="1.1" height="7.0" fill="#189a4c"/>
<rect x="654.02" y="353.4" width="2" height="5.0" fill="#16c25c"/>
<rect x="656.80" y="336.0" width="1.1" height="21.0" fill="#189a4c"/>
<rect x="656.35" y="351.8" width="2" height="4.2" fill="#16c25c"/>
<rect x="659.13" y="346.6" width="1.1" height="7.8" fill="#189a4c"/>
<rect x="658.68" y="347.6" width="2" height="5.8" fill="#16c25c"/>
<rect x="661.47" y="340.0" width="1.1" height="11.0" fill="#189a4c"/>
<rect x="661.02" y="341.0" width="2" height="9.0" fill="#16c25c"/>
<rect x="663.80" y="329.9" width="1.1" height="13.7" fill="#189a4c"/>
<rect x="663.35" y="330.9" width="2" height="11.7" fill="#16c25c"/>
<rect x="666.13" y="325.0" width="1.1" height="12.7" fill="#c22f45"/>
<rect x="665.68" y="325.9" width="2" height="10.8" fill="#ee3650"/>
<rect x="668.47" y="334.0" width="1.1" height="18.0" fill="#c22f45"/>
<rect x="668.02" y="335.0" width="2" height="16.0" fill="#ee3650"/>
<rect x="670.80" y="349.0" width="1.1" height="15.1" fill="#c22f45"/>
<rect x="670.35" y="350.0" width="2" height="9.1" fill="#ee3650"/>
<rect x="673.13" y="350.0" width="1.1" height="11.0" fill="#189a4c"/>
<rect x="672.68" y="354.6" width="2" height="3.5" fill="#16c25c"/>
<rect x="675.47" y="351.8" width="1.1" height="13.8" fill="#c22f45"/>
<rect x="675.02" y="354.6" width="2" height="10.0" fill="#ee3650"/>
<rect x="677.80" y="362.6" width="1.1" height="10.0" fill="#c22f45"/>
<rect x="677.35" y="363.6" width="2" height="8.0" fill="#ee3650"/>
<rect x="680.14" y="347.6" width="1.1" height="24.5" fill="#189a4c"/>
<rect x="679.69" y="353.1" width="2" height="18.0" fill="#16c25c"/>
<rect x="682.47" y="352.1" width="1.1" height="10.0" fill="#c22f45"/>
<rect x="682.02" y="353.1" width="2" height="2.5" fill="#ee3650"/>
<rect x="684.80" y="347.0" width="1.1" height="9.1" fill="#189a4c"/>
<rect x="684.35" y="350.0" width="2" height="5.1" fill="#16c25c"/>
<rect x="687.14" y="349.0" width="1.1" height="16.1" fill="#c22f45"/>
<rect x="686.69" y="350.0" width="2" height="14.1" fill="#ee3650"/>
<rect x="689.47" y="362.1" width="1.1" height="20.1" fill="#c22f45"/>
<rect x="689.02" y="363.1" width="2" height="16.1" fill="#ee3650"/>
<rect x="691.80" y="372.7" width="1.1" height="6.5" fill="#c22f45"/>
<rect x="691.35" y="373.7" width="2" height="4.5" fill="#ee3650"/>
<rect x="694.14" y="374.7" width="1.1" height="10.5" fill="#c22f45"/>
<rect x="693.69" y="375.7" width="2" height="4.0" fill="#ee3650"/>
<rect x="696.47" y="366.6" width="1.1" height="14.1" fill="#189a4c"/>
<rect x="696.02" y="367.6" width="2" height="12.1" fill="#16c25c"/>
<rect x="698.81" y="366.1" width="1.1" height="11.6" fill="#189a4c"/>
<rect x="698.36" y="367.1" width="2" height="9.6" fill="#16c25c"/>
<rect x="701.14" y="361.9" width="1.1" height="7.7" fill="#c22f45"/>
<rect x="700.69" y="367.1" width="2" height="1.5" fill="#ee3650"/>
<rect x="703.47" y="366.1" width="1.1" height="15.6" fill="#c22f45"/>
<rect x="703.02" y="367.1" width="2" height="9.1" fill="#ee3650"/>
<rect x="705.81" y="371.7" width="1.1" height="6.5" fill="#189a4c"/>
<rect x="705.36" y="372.7" width="2" height="4.5" fill="#16c25c"/>
<rect x="708.14" y="370.6" width="1.1" height="4.6" fill="#189a4c"/>
<rect x="707.69" y="371.6" width="2" height="2.6" fill="#16c25c"/>
<rect x="710.47" y="360.1" width="1.1" height="16.6" fill="#189a4c"/>
<rect x="710.02" y="363.6" width="2" height="12.1" fill="#16c25c"/>
<rect x="712.81" y="359.2" width="1.1" height="4.6" fill="#189a4c"/>
<rect x="712.36" y="361.2" width="2" height="1.2" fill="#16c25c"/>
<path d="M0.0,193.0 C0.7,192.4 2.8,190.7 4.2,189.3 C5.6,187.9 7.0,186.3 8.4,184.7 C9.8,183.1 11.1,180.9 12.5,179.7 C13.9,178.4 15.3,178.0 16.7,177.2 C18.1,176.4 19.5,175.9 20.9,175.1 C22.3,174.3 23.7,173.4 25.1,172.6 C26.5,171.8 27.8,171.1 29.2,170.5 C30.6,169.9 32.0,169.4 33.4,168.8 C34.8,168.2 36.2,167.6 37.6,167.1 C39.0,166.6 40.4,166.4 41.8,166.0 C43.2,165.6 44.5,165.2 45.9,164.6 C47.3,164.0 48.7,163.1 50.1,162.5 C51.5,161.9 52.6,161.7 54.3,161.3 C55.9,160.9 57.9,160.4 60.0,160.0 C62.1,159.6 63.6,159.4 67.0,158.6 C70.4,157.8 75.8,156.8 80.3,155.3 C84.8,153.8 89.2,151.8 93.7,149.6 C98.2,147.4 102.6,144.7 107.1,141.9 C111.6,139.1 116.0,135.3 120.5,132.9 C125.0,130.5 129.4,129.3 133.9,127.5 C138.4,125.7 142.8,124.1 147.3,121.8 C151.8,119.5 156.2,116.0 160.7,113.4 C165.2,110.8 170.9,107.5 174.1,106.1 C177.3,104.7 176.3,105.8 180.0,105.1 C183.7,104.4 192.8,102.3 196.1,101.7 C199.4,101.1 197.8,101.0 200.1,101.7 C202.4,102.4 206.8,104.5 210.1,105.7 C213.4,106.9 216.8,107.9 220.2,109.1 C223.5,110.3 226.8,111.9 230.2,112.7 C233.5,113.5 237.0,113.5 240.3,113.7 C243.7,113.9 247.0,113.6 250.3,113.7 C253.7,113.8 257.0,114.0 260.4,114.5 C263.8,115.0 267.4,116.1 270.4,116.7 C273.4,117.3 275.4,118.2 278.4,118.1 C281.4,118.0 285.5,116.8 288.5,116.1 C291.5,115.4 293.8,114.0 296.5,113.7 C299.2,113.4 300.5,114.3 304.5,114.5 C308.5,114.7 315.2,115.1 320.6,115.1 C326.0,115.1 332.0,114.3 336.7,114.5 C341.4,114.7 346.0,116.0 348.7,116.5 C351.4,117.0 351.3,116.9 352.6,117.5 C353.9,118.1 353.7,118.6 356.3,120.0 C358.9,121.4 364.4,124.0 368.4,126.0 C372.4,128.0 377.0,129.7 380.4,132.0 C383.8,134.3 385.8,137.1 388.5,140.1 C391.2,143.1 393.8,146.4 396.5,150.1 C399.2,153.8 401.5,157.2 404.5,162.2 C407.5,167.2 411.9,176.0 414.6,179.9 C417.3,183.8 417.9,182.8 420.5,185.4 C423.1,188.0 426.9,192.9 430.0,195.5 C433.1,198.1 436.1,198.6 439.2,201.0 C442.3,203.4 445.3,206.8 448.4,210.2 C451.5,213.6 454.5,217.9 457.6,221.3 C460.7,224.7 463.7,227.6 466.8,230.5 C469.9,233.4 472.9,236.2 476.0,238.8 C479.1,241.4 482.1,244.1 485.2,246.1 C488.3,248.1 491.3,249.7 494.4,250.7 C497.5,251.7 500.5,252.2 503.6,252.2 C506.7,252.2 509.7,251.3 512.8,250.7 C515.9,250.1 518.9,249.3 522.0,248.5 C525.1,247.7 528.1,246.5 531.2,246.1 C534.3,245.7 537.3,245.9 540.4,246.1 C543.5,246.2 546.5,246.4 549.6,247.0 C552.7,247.6 555.7,248.4 558.8,249.8 C561.9,251.2 564.9,253.2 568.0,255.3 C571.1,257.4 574.1,260.4 577.2,262.7 C580.3,264.9 583.7,266.6 586.7,268.8 C589.7,271.0 592.3,273.7 595.1,276.1 C597.9,278.5 600.6,280.6 603.4,283.4 C606.2,286.2 609.0,289.5 611.8,292.8 C614.6,296.1 617.3,300.0 620.1,303.3 C622.9,306.6 625.7,309.6 628.5,312.7 C631.3,315.8 634.9,319.8 636.8,322.1 C638.7,324.4 638.2,324.2 640.0,326.5 C641.8,328.8 645.0,332.5 647.5,335.6 C650.0,338.7 652.5,342.6 655.0,345.3 C657.5,348.1 660.1,350.2 662.6,352.1 C665.1,354.0 667.6,355.1 670.1,356.6 C672.6,358.1 675.1,360.0 677.6,361.1 C680.1,362.2 682.6,362.4 685.1,363.0 C687.6,363.6 690.1,364.0 692.6,364.4 C695.1,364.8 697.7,365.1 700.2,365.3 C702.7,365.5 705.5,365.3 707.7,365.3 C710.0,365.3 712.7,365.3 713.7,365.3" fill="none" stroke="#2aadca" stroke-width="1.3" stroke-linejoin="round"/>
<line x1="286" y1="49.5" x2="723" y2="335" stroke="#a0a0a0" stroke-width="1.5"/>
<line x1="594" y1="351" x2="718.6" y2="307" stroke="#868686" stroke-width="1.4"/>
<line x1="594" y1="408.8" x2="718.6" y2="364.8" stroke="#868686" stroke-width="1.4"/>
</svg>
<svg width="841" height="598" viewBox="0 0 841 598" style="top:0">
<rect x="0" y="465.9" width="841" height="71.6" fill="#1e1b27"/>
<line x1="0" y1="465.9" x2="841" y2="465.9" stroke="#606060" stroke-width="1.1" stroke-dasharray="4 3.3333" stroke-dashoffset="3.3333"/>
<line x1="0" y1="501.7" x2="841" y2="501.7" stroke="#606060" stroke-width="1.1" stroke-dasharray="4 3.3333" stroke-dashoffset="3.3333"/>
<line x1="0" y1="537.5" x2="841" y2="537.5" stroke="#606060" stroke-width="1.1" stroke-dasharray="4 3.3333" stroke-dashoffset="3.3333"/>
<polyline points="0.0,515.0 4.0,497.6 8.0,493.6 11.3,477.5 13.4,477.5 18.2,500.3 20.9,499.0 23.6,501.6 27.3,495.7 30.0,505.6 33.5,504.3 37.5,512.3 41.5,521.7 43.4,499.0 48.2,490.4 53.6,490.9 57.6,486.0 62.4,501.6 64.3,486.9 67.0,484.2 70.2,493.0 74.5,487.7 77.1,492.2 79.8,488.2 83.0,463.6 87.1,460.1 92.4,455.5 95.1,468.1 99.1,465.4 101.8,473.5 107.2,478.8 110.4,468.1 113.8,476.2 117.9,484.2 122.7,477.0 125.9,486.1 129.9,488.2 133.9,515.0 137.2,519.0 141.4,504.3 144.7,508.3 148.7,489.6 152.2,494.9 155.9,482.9 158.0,485.5 162.1,468.1 164.7,494.9 168.8,499.5 172.8,500.3 176.8,519.0 180.0,512.3 182.2,517.7 184.3,498.9 187.5,508.3 190.7,521.7 192.9,515.0 195.5,516.3 197.7,511.0 200.4,523.0 203.6,520.4 206.3,521.7 209.0,509.6 211.6,508.3 215.6,511.8 219.1,513.7 222.3,504.3 225.0,504.8 228.2,492.2 231.7,485.5 233.2,485.0 235.4,485.5 237.5,489.6 240.2,488.8 242.1,482.3 243.9,484.2 246.6,481.8 248.8,492.2 251.4,492.2 254.1,496.3 256.0,511.0 258.1,515.0 260.0,507.0 262.7,526.3 265.4,521.7 267.5,520.9 271.5,496.3 274.2,495.7 277.7,474.8 280.9,466.8 284.9,464.6 288.9,460.9 291.1,480.2 293.8,474.8 295.6,482.9 298.3,516.3 301.0,520.9 302.9,506.4 305.5,505.6 309.0,513.7 314.4,528.4 317.1,525.2 321.6,511.8 323.8,518.2 325.9,519.8 329.1,509.6 333.1,503.8 335.0,494.9 338.5,497.6 341.2,503.0 342.5,511.0 345.2,516.3 347.9,510.2 351.9,507.0 355.9,532.4 358.6,523.6 361.3,528.4 364.0,520.4 366.1,523.0 369.8,509.6 373.3,517.7 376.0,521.7 379.5,535.9 382.2,533.2 386.7,539.1 389.4,535.9 392.1,539.1 394.0,547.7 397.4,549.8 401.4,537.0 404.1,533.2 405.5,534.3 408.9,518.2 412.2,517.7 416.2,519.0 419.7,532.4 421.5,508.3 424.2,503.0 426.9,507.0 429.6,516.3 431.4,516.3 434.9,510.2 438.4,502.1 440.3,504.3 443.0,503.0 445.6,511.0 447.5,511.0 452.3,524.4 455.0,518.2 459.0,525.2 461.5,512.5 464.4,509.6 467.3,508.8 471.0,514.0 473.1,513.1 476.0,515.4 478.0,514.3 480.9,510.2 482.6,510.8 484.7,514.0 487.0,505.3 489.0,509.6 492.5,500.9 496.3,492.2 499.2,485.0 501.5,474.0 503.5,474.8 505.9,492.2 509.3,495.7 512.2,498.6 515.1,494.6 517.5,493.1 519.5,470.5 521.5,466.1 524.4,475.4 527.3,477.1 529.6,480.6 531.1,491.7 534.0,499.5 536.9,518.4 538.9,514.0 542.7,512.5 545.6,515.4 547.9,526.5 550.0,516.0 552.3,509.6 554.3,511.1 557.2,529.4 559.5,530.5 561.6,544.5 563.9,548.8 565.9,539.2 568.8,545.9 571.1,551.7 573.2,561.9 576.1,533.4 578.4,533.7 581.3,531.4 584.8,533.7 589.1,538.1 592.0,528.5 594.1,524.2 596.4,525.6 599.3,526.5 603.6,532.3 606.5,527.6 609.4,524.2 612.3,524.7 614.4,530.0 616.7,535.2 619.6,516.0 622.5,517.8 624.8,521.8 627.7,517.8 629.2,520.7 632.1,507.3 634.1,508.2 636.4,491.7 638.5,495.1 641.4,508.2 645.7,514.9 648.6,503.8 651.5,499.5 655.0,497.5 658.8,494.6 661.7,486.4 664.6,480.0 667.5,486.4 669.5,499.5 671.8,503.3 674.2,501.5 676.2,508.2 679.1,512.5 681.1,499.5 683.4,500.9 686.3,497.5 689.2,512.5 692.2,517.8 695.1,518.9 698.0,514.9 699.4,507.3 702.3,506.7 704.3,512.5 708.1,512.0 710.1,509.6 711.3,500.4 713.9,498.6" fill="none" stroke="#7f58c6" stroke-width="1.1" stroke-linejoin="round"/>
</svg>
<div style="position:absolute;left:840px;top:0;width:2px;height:598px;background:#1f1f1f"></div>
<div style="position:absolute;left:0;top:441.2px;width:896px;height:1px;background:#232323"></div>
<div style="position:absolute;left:0;top:574px;width:896px;height:1px;background:#212121"></div>
<div class="pl" style="top:-7.2px;color:#e0e0e0">135,000.0</div><div class="pl" style="top:20.3px;color:#e0e0e0">130,000.0</div><div class="pl" style="top:47.8px;color:#e0e0e0">125,000.0</div><div class="pl" style="top:75.2px;color:#e0e0e0">120,000.0</div><div class="pl" style="top:102.7px;color:#e0e0e0">115,000.0</div><div class="pl" style="top:130.1px;color:#e0e0e0">110,000.0</div><div class="pl" style="top:157.6px;color:#e0e0e0">105,000.0</div><div class="pl" style="top:185.0px;color:#e0e0e0">100,000.0</div><div class="pl" style="top:212.5px;color:#e0e0e0">95,000.0</div><div class="pl" style="top:239.9px;color:#e0e0e0">90,000.0</div><div class="pl" style="top:267.4px;color:#e0e0e0">85,000.0</div><div class="pl" style="top:294.9px;color:#e0e0e0">80,000.0</div><div class="pl" style="top:322.3px;color:#e0e0e0">75,000.0</div><div class="pl" style="top:349.8px;color:#e0e0e0">70,000.0</div><div class="pl" style="top:377.2px;color:#e0e0e0">65,000.0</div><div class="pl" style="top:404.7px;color:#e0e0e0">60,000.0</div>
<div class="hdr" style="top:1.4px;letter-spacing:-0.66px">BTC/USD, 1D, PRIME</div>
<div class="hdr" style="top:1.4px;left:108.1px">O</div><div class="hdr g" style="top:1.4px;left:115.3px">68,973.5</div>
<div class="hdr" style="top:1.4px;left:162.5px">H</div><div class="hdr g" style="top:1.4px;left:169.4px">69,550.4</div>
<div class="hdr" style="top:1.4px;left:216.9px">L</div><div class="hdr g" style="top:1.4px;left:223.1px">68,715.8</div>
<div class="hdr" style="top:1.4px;left:268.7px">C</div><div class="hdr g" style="top:1.4px;left:276.2px">69,185.7</div>
<div class="hdr g" style="top:1.4px;left:323.1px">+212.2 (+0.31%)</div>
<div class="hdr" style="top:16.4px">MA</div>
<div class="hdr" style="top:31.4px">MA</div>
<div class="hdr" style="top:447.3px">RSI</div>
<div class="tl" style="left:134.6px">Aug</div>
<div class="tl" style="left:207.1px">Sep</div>
<div class="tl" style="left:349.3px">Nov</div>
<div class="tl" style="left:491.5px;font-weight:bold;color:#f4f4f4">2026</div>
<div class="tl" style="left:564px">Feb</div>
<div class="tl" style="left:701.7px">Apr</div>
<div class="tl" style="left:773.9px">2</div>
<div class="pl" style="top:441.0px;color:#e0e0e0">80.00</div>
<div class="pl" style="top:476.8px;color:#e0e0e0">60.00</div>
<div class="pl" style="top:512.6px;color:#e0e0e0">40.00</div>
<div class="pl" style="top:548.4px;color:#e0e0e0">20.00</div>
<!-- boxes -->
<div class="box" style="left:810.5px;top:42px;width:29.5px;height:15px;background:#0d4fa8;color:#e8eefc;padding-left:4px;border-radius:2px 0 0 2px">High</div>
<div class="box" style="left:841px;top:42px;width:55px;height:15px;background:#0d4fa8;color:#e8eefc;border-radius:0">126,157.6</div>
<div class="box" style="left:841px;top:245.5px;width:52.5px;height:15px;background:#a0a0a0;color:#262626">89,080.6</div>
<div class="box" style="left:841px;top:294.7px;width:52.5px;height:45.8px;background:#49a94d"></div>
<div class="box" style="left:841px;top:295.5px;width:52.5px;height:14px;color:#f0f0f0">80,000.0</div>
<div class="box" style="left:841px;top:309.8px;width:52.5px;height:14px;color:#f0f0f0">80,000.0</div>
<div class="box" style="left:841px;top:324.8px;width:52.5px;height:14px;color:#f0f0f0">76,000.0</div>
<div class="box" style="left:814.7px;top:354.4px;width:25.3px;height:14.2px;background:#1e9e52;color:#f0f0f0;padding-left:4px">Ask</div>
<div class="box" style="left:841px;top:354.4px;width:52.5px;height:14.2px;background:#1e9e52;color:#f0f0f0">69,234.6</div>
<div class="box" style="left:817.4px;top:370px;width:22.6px;height:14.5px;background:#dc3548;color:#f0f0f0;padding-left:4px">Bid</div>
<div class="box" style="left:841px;top:370px;width:52.5px;height:14.5px;background:#dc3548;color:#f0f0f0">69,185.7</div>
<div class="box" style="left:841px;top:385px;width:52.5px;height:15px;background:#22c0d8;color:#10292c">68,589.9</div>
<div class="box" style="left:841px;top:400.5px;width:52.5px;height:15px;background:#1f4fd6;color:#f0f0f0">65,659.5</div>
<div class="box" style="left:841px;top:416px;width:52.5px;height:14.5px;background:#1f4fd6;color:#f0f0f0">60,000.0</div>
<div style="position:absolute;left:813px;top:431px;width:83px;height:10px;overflow:hidden">
 <div class="box" style="left:0;top:0;width:27px;height:15px;background:#0c4d9c;color:#e8eefc;padding-left:4px">Low</div>
 <div class="box" style="left:29px;top:0;width:52.5px;height:15px;background:#0c4d9c;color:#e8eefc">59,811.2</div>
</div>
<div class="box" style="left:841.5px;top:491.6px;width:38.5px;height:14.4px;background:#7e57c2;color:#f0f0f0">51.62</div>
</div></body></html>
